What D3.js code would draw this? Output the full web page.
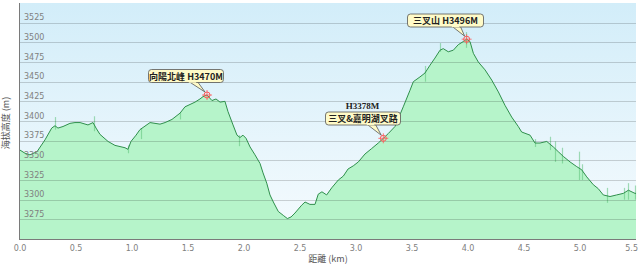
<!DOCTYPE html>
<html><head><meta charset="utf-8">
<script src="https://cdn.jsdelivr.net/npm/d3@7/dist/d3.min.js"></script>
<style>body{margin:0;background:#fff}svg{display:block}</style>
</head><body><svg id="c" width="640" height="266"></svg>
<script>
const distance = [0,0.045,0.089,0.152,0.223,0.283,0.3125,0.339,0.384,0.446,0.491,0.536,0.607,0.652,0.679,0.714,0.786,0.848,0.9375,0.964,0.991,1.036,1.071,1.161,1.25,1.295,1.357,1.429,1.473,1.518,1.5625,1.607,1.634,1.670,1.714,1.75,1.786,1.830,1.857,1.902,1.9375,1.964,1.991,2.018,2.054,2.098,2.143,2.170,2.203,2.232,2.262,2.306,2.351,2.387,2.42,2.455,2.515,2.545,2.589,2.634,2.663,2.696,2.738,2.783,2.842,2.887,2.929,2.976,3.021,3.080,3.140,3.199,3.244,3.288,3.348,3.422,3.482,3.512,3.571,3.616,3.661,3.705,3.75,3.779,3.824,3.869,3.913,3.958,3.988,4.018,4.048,4.092,4.152,4.212,4.271,4.330,4.390,4.449,4.479,4.554,4.598,4.643,4.703,4.762,4.806,4.851,4.911,4.971,5.015,5.060,5.119,5.163,5.208,5.268,5.327,5.387,5.432,5.491,5.5];
const elevation = [3363,3359,3357,3361,3376,3391,3394,3391,3393,3397,3398,3398,3395,3398,3391,3383,3374,3369,3366,3364,3374,3382,3389,3398,3396,3398,3402,3410,3418,3421,3424,3428,3431,3433,3426,3428,3424,3425,3412,3395,3382,3379,3382,3378,3367,3357,3346,3334,3321,3306,3297,3285,3280,3276,3278,3283,3293,3297,3294,3294,3307,3310,3306,3315,3325,3330,3339,3343,3348,3358,3365,3372,3378,3384,3393,3418,3439,3450,3456,3461,3471,3480,3490,3492,3488,3490,3497,3501,3504,3501,3486,3475,3465,3452,3437,3420,3405,3393,3386,3382,3372,3372,3374,3367,3361,3355,3348,3342,3338,3329,3319,3314,3306,3304,3306,3308,3312,3308,3308];
const spikeDist = [0.3125,0.661,0.964,1.08,1.43,1.955,3.616,3.75,3.98,4.60,4.73,4.78,4.84,4.99,5.015,5.24,5.39,5.43,5.49];
const spikeTop = [3405,3406,3369,3391,3411,3382,3470,3499,3513,3377,3380,3374,3366,3361,3345,3315,3315,3321,3318];
const spikeBottom = [3389,3387,3359,3377,3402,3368,3450,3488,3493,3367,3363,3348,3346,3325,3325,3296,3300,3300,3300];
const yTicks = [3275,3300,3325,3350,3375,3400,3425,3450,3475,3500,3525];
const xTicks = [0,0.5,1,1.5,2,2.5,3,3.5,4,4.5,5,5.5];
const markerDist = [1.670,3.244,3.988];
const markerLabels = ["向陽北峰 H3470M","三叉&嘉明湖叉路","三叉山 H3496M"];
const markerTopText = ["","H3378M",""];

const svg = d3.select("#c");
const L=20,R=636,T=3,B=239;
const x = d3.scaleLinear().domain([0,5.5]).range([L,R]);
const y = d3.scaleLinear().domain([3250,3550]).range([B,T]);
const data = distance.map((d,i)=>({d,e:elevation[i]}));

const defs = svg.append("defs");
const g = defs.append("linearGradient").attr("id","bg").attr("x1",0).attr("y1",0).attr("x2",0).attr("y2",1);
g.append("stop").attr("offset","0").attr("stop-color","#d2edf9");
g.append("stop").attr("offset","1").attr("stop-color","#f6fbfe");
svg.append("rect").attr("x",L).attr("y",T).attr("width",R-L).attr("height",B-T).attr("fill","url(#bg)");

svg.append("path").datum(data)
  .attr("d",d3.area().x(p=>x(p.d)).y0(B).y1(p=>y(p.e)))
  .attr("fill","#b6f4ca");

// spikes
svg.append("g").selectAll("line").data(spikeDist).join("line")
  .attr("x1",(d)=>Math.round(x(d))+0.5).attr("x2",(d)=>Math.round(x(d))+0.5)
  .attr("y1",(d,i)=>y(spikeTop[i])).attr("y2",(d,i)=>y(spikeBottom[i]))
  .attr("stroke","#5cc27a").attr("stroke-width",1.2).attr("opacity",0.55);

// grid
svg.append("g").selectAll("line").data(yTicks).join("line")
  .attr("x1",L).attr("x2",R).attr("y1",d=>Math.round(y(d))+0.5).attr("y2",d=>Math.round(y(d))+0.5)
  .attr("stroke","#000").attr("stroke-opacity",0.17);

svg.append("path").datum(data)
  .attr("d",d3.line().x(p=>x(p.d)).y(p=>y(p.e)))
  .attr("fill","none").attr("stroke","#2f8f4c").attr("stroke-width",1);

// y labels inside
svg.append("g").selectAll("text").data(yTicks).join("text")
  .attr("x",L+4).attr("y",d=>y(d)-2.5).text(d=>d)
  .attr("font-family","DejaVu Sans").attr("font-size",8).attr("fill","#808080");

// axes lines
svg.append("line").attr("x1",L-0.5).attr("x2",L-0.5).attr("y1",T).attr("y2",B).attr("stroke","#7a7a7a");
svg.append("line").attr("x1",L-1).attr("x2",R).attr("y1",B+0.5).attr("y2",B+0.5).attr("stroke","#7a7a7a");
svg.append("g").selectAll("text").data(xTicks).join("text")
  .attr("x",(d,i)=>i===xTicks.length-1?638:x(d)).attr("y",251)
  .attr("text-anchor",(d,i)=>i===xTicks.length-1?"end":"middle").text(d=>d.toFixed(1))
  .attr("font-family","DejaVu Sans").attr("font-size",8).attr("fill","#808080");

svg.append("text").attr("x",(L+R)/2).attr("y",262).attr("text-anchor","middle")
  .attr("font-family","Noto Sans CJK TC").attr("font-size",9).attr("fill","#555").text("距離 (km)");
svg.append("text").attr("transform",`translate(9,${(T+B)/2+2}) rotate(-90)`).attr("text-anchor","middle")
  .attr("font-family","Noto Sans CJK TC").attr("font-size",9).attr("fill","#555").text("海拔高度 (m)");

// annotations
const interp = d3.scaleLinear().domain(distance).range(elevation);
const boxes = [
  {bx:148,by:69,bw:75,bh:13,tail:[188,197]},
  {bx:325,by:111.5,bw:75,bh:13,tail:[366,375]},
  {bx:407,by:13.5,bw:76,bh:13,tail:[451,460]}
];
markerDist.forEach((md,i)=>{
  const mx=x(md), my=y(interp(md));
  const b=boxes[i];
  const ann=svg.append("g");
  ann.append("path").attr("d",`M${b.tail[0]},${b.by+b.bh-1} L${mx-2},${my-3} L${b.tail[1]},${b.by+b.bh-1}`)
    .attr("fill","#fffbc8").attr("stroke","#555").attr("stroke-width",0.8);
  ann.append("rect").attr("x",b.bx+0.5).attr("y",b.by+0.5).attr("width",b.bw).attr("height",b.bh).attr("rx",3)
    .attr("fill","#fffbc8").attr("stroke","#555").attr("stroke-width",0.8);
  ann.append("line").attr("x1",b.tail[0]+0.8).attr("x2",b.tail[1]-0.8).attr("y1",b.by+b.bh).attr("y2",b.by+b.bh).attr("stroke","#fffbc8").attr("stroke-width",1.5);
  ann.append("text").attr("x",b.bx+b.bw/2+0.5).attr("y",b.by+b.bh-2.5).attr("text-anchor","middle")
    .attr("font-family","Noto Sans CJK TC").attr("font-size",9).attr("font-weight","bold").attr("fill","#222").text(markerLabels[i]);
  if(markerTopText[i]) ann.append("text").attr("x",b.bx+b.bw/2).attr("y",b.by-3).attr("text-anchor","middle")
    .attr("font-family","Liberation Serif").attr("font-size",9).attr("font-weight","bold").attr("fill","#222").text(markerTopText[i]);
  const m=svg.append("g").attr("transform",`translate(${mx},${my})`);
  m.append("circle").attr("r",3).attr("fill","none").attr("stroke","#ff5a5a").attr("stroke-width",1);
  m.append("path").attr("d","M-5,0H5M0,-5V5").attr("stroke","#ff5a5a").attr("stroke-width",0.8);
});
</script></body></html>
